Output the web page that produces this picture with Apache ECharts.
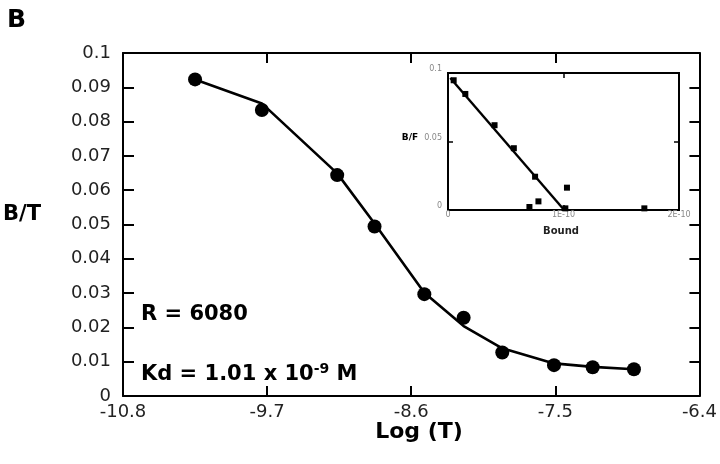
<!DOCTYPE html>
<html>
<head>
<meta charset="utf-8">
<script src="https://cdn.jsdelivr.net/npm/echarts@6/dist/echarts.min.js"></script>
<style>html,body{margin:0;padding:0;background:#fff}#c{width:720px;height:464px}</style>
</head>
<body>
<div id="c"></div>
<script>
// Main plot data
const xTicks = [-10.8, -9.7, -8.6, -7.5, -6.4];
const logT = [-10.25, -9.74, -9.165, -8.88, -8.50, -8.20, -7.905, -7.51, -7.215, -6.90];
const bt = [0.0923, 0.0834, 0.0644, 0.0494, 0.0297, 0.0228, 0.0127, 0.0090, 0.0084, 0.0078];
const btFit = [0.0923, 0.0853, 0.0649, 0.0503, 0.0301, 0.0204, 0.0139, 0.0095, 0.0085, 0.0078];
// Inset (Scatchard) data, Bound in units of 1E-10
const bound = [0.049, 0.15, 0.403, 0.57, 0.754, 0.705, 0.783, 1.03, 1.016, 1.70];
const bf = [0.0947, 0.0847, 0.0619, 0.0451, 0.0243, 0.0022, 0.0063, 0.0163, 0.0012, 0.0012];
const fitBound = [0.02, 1.0];
const fitBF = [0.0964, 0.0005];
const insetXTicks = [0, 1, 2];
const insetYTicks = [0, 0.05, 0.1];

const FONT = '"DejaVu Sans", "Liberation Sans", Arial, sans-serif';
const chart = echarts.init(document.getElementById('c'), null, {renderer: 'canvas'});
const zip = (a, b) => a.map((v, i) => [v, b[i]]);
const axLine = {show: true, onZero: false, lineStyle: {color: '#000', width: 2}};
const noLine = {show: false, onZero: false};
const insetTick = (vals) => ({show: true, inside: true, length: 5, customValues: vals, lineStyle: {color: '#000', width: 1.5}});

chart.setOption({
  animation: false,
  backgroundColor: '#fff',
  grid: [
    {left: 123, right: 15, top: 53, bottom: 68},
    {left: 448, top: 73, width: 231, height: 137, show: true, borderColor: '#000', borderWidth: 2}
  ],
  xAxis: [
    {gridIndex: 0, type: 'value', min: -10.8, max: -6.4, position: 'bottom',
     axisLine: axLine, splitLine: {show: false},
     axisTick: {show: true, inside: true, length: 10, customValues: xTicks, lineStyle: {color: '#000', width: 2}},
     axisLabel: {customValues: xTicks, margin: 7, color: '#222', fontSize: 18, fontFamily: FONT,
                 formatter: v => String(Math.round(v * 10) / 10)}},
    {gridIndex: 0, type: 'value', min: -10.8, max: -6.4, position: 'top',
     axisLine: axLine, splitLine: {show: false},
     axisTick: {show: true, inside: true, length: 10, customValues: xTicks, lineStyle: {color: '#000', width: 2}},
     axisLabel: {show: false}},
    {gridIndex: 1, type: 'value', min: 0, max: 2, interval: 1, position: 'bottom',
     axisLine: noLine, splitLine: {show: false},
     axisTick: insetTick([1]),
     axisLabel: {customValues: insetXTicks, margin: 1, color: '#888', fontSize: 8, fontFamily: FONT,
                 formatter: v => v === 0 ? '0' : v + 'E-10'}},
    {gridIndex: 1, type: 'value', min: 0, max: 2, interval: 1, position: 'top',
     axisLine: noLine, splitLine: {show: false},
     axisTick: insetTick([1]),
     axisLabel: {show: false}}
  ],
  yAxis: [
    {gridIndex: 0, type: 'value', min: 0, max: 0.1, interval: 0.01, position: 'left',
     axisLine: axLine, splitLine: {show: false},
     axisTick: {show: true, inside: true, length: 11, lineStyle: {color: '#000', width: 2}},
     axisLabel: {margin: 12, color: '#222', fontSize: 18, fontFamily: FONT,
                 formatter: v => String(Math.round(v * 100) / 100)}},
    {gridIndex: 0, type: 'value', min: 0, max: 0.1, interval: 0.01, position: 'right',
     axisLine: axLine, splitLine: {show: false},
     axisTick: {show: true, inside: true, length: 10, lineStyle: {color: '#000', width: 2}},
     axisLabel: {show: false}},
    {gridIndex: 1, type: 'value', min: 0, max: 0.1, interval: 0.05, position: 'left',
     axisLine: noLine, splitLine: {show: false},
     axisTick: insetTick([0.05]),
     axisLabel: {customValues: insetYTicks, margin: 6, color: '#888', fontSize: 8, fontFamily: FONT,
                 verticalAlign: 'bottom', formatter: v => String(v)}},
    {gridIndex: 1, type: 'value', min: 0, max: 0.1, interval: 0.05, position: 'right',
     axisLine: noLine, splitLine: {show: false},
     axisTick: insetTick([0.05]),
     axisLabel: {show: false}}
  ],
  series: [
    {type: 'line', xAxisIndex: 0, yAxisIndex: 0, data: zip(logT, btFit), showSymbol: false, symbol: 'none',
     lineStyle: {color: '#000', width: 2.6}, z: 3},
    {type: 'scatter', xAxisIndex: 0, yAxisIndex: 0, data: zip(logT, bt), symbol: 'circle', symbolSize: 14,
     itemStyle: {color: '#000', opacity: 1}, z: 4},
    {type: 'line', xAxisIndex: 2, yAxisIndex: 2, data: zip(fitBound, fitBF), showSymbol: false, symbol: 'none',
     lineStyle: {color: '#000', width: 2.4}, z: 5},
    {type: 'scatter', xAxisIndex: 2, yAxisIndex: 2, data: zip(bound, bf), symbol: 'rect', symbolSize: 6,
     itemStyle: {color: '#000', opacity: 1}, z: 6}
  ],
  graphic: [
    {type: 'text', x: 7, y: 8, style: {text: 'B', font: 'bold 25px ' + FONT, fill: '#000', align: 'left', verticalAlign: 'top'}},
    {type: 'text', x: 3, y: 215, style: {text: 'B/T', font: 'bold 21px ' + FONT, fill: '#000', align: 'left', verticalAlign: 'middle'}},
    {type: 'text', x: 419, y: 432, style: {text: 'Log (T)', font: 'bold 22px ' + FONT, fill: '#000', align: 'center', verticalAlign: 'middle'}},
    {type: 'text', x: 141, y: 315, style: {text: 'R = 6080', font: 'bold 21px ' + FONT, fill: '#000', align: 'left', verticalAlign: 'middle'}},
    {type: 'text', x: 141, y: 375, style: {
      text: '{b|Kd = 1.01 x 10}{s|-9}{b| M}', align: 'left', verticalAlign: 'middle',
      rich: {
        b: {fontSize: 21, fontWeight: 'bold', fontFamily: FONT, fill: '#000', lineHeight: 26},
        s: {fontSize: 14, fontWeight: 'bold', fontFamily: FONT, fill: '#000', lineHeight: 14, verticalAlign: 'top'}
      }}},
    {type: 'text', x: 410, y: 138, style: {text: 'B/F', font: 'bold 9px ' + FONT, fill: '#000', align: 'center', verticalAlign: 'middle'}},
    {type: 'text', x: 561, y: 231, style: {text: 'Bound', font: 'bold 10px ' + FONT, fill: '#222', align: 'center', verticalAlign: 'middle'}}
  ]
});
</script>
</body>
</html>
